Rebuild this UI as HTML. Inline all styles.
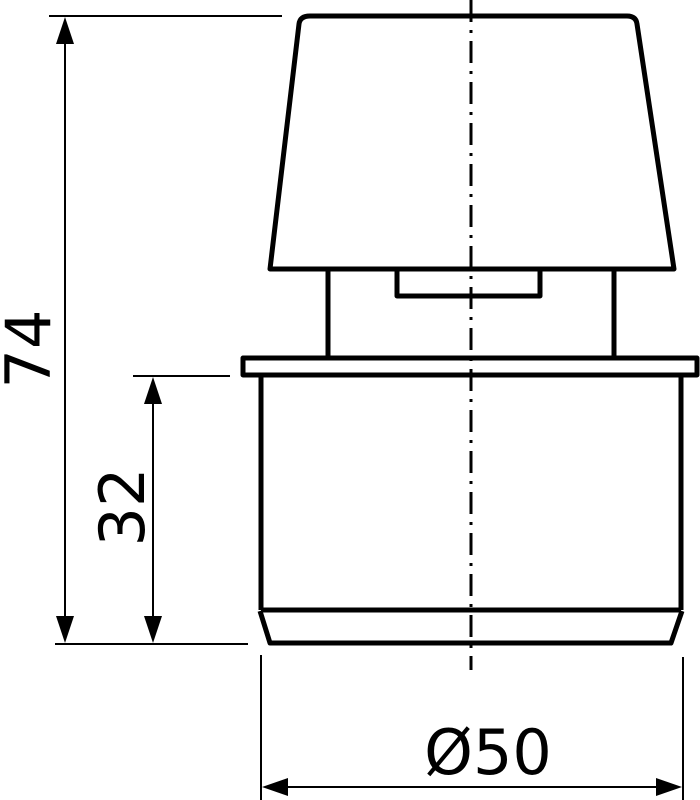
<!DOCTYPE html>
<html><head><meta charset="utf-8"><style>html,body{margin:0;padding:0;background:#fff}svg{display:block}</style></head>
<body>
<svg width="700" height="800" viewBox="0 0 700 800" xmlns="http://www.w3.org/2000/svg">
<g fill="none" stroke="#000" stroke-width="5" stroke-linejoin="round">
  <path d="M270,269 L299,24 Q300,16 310,16 L627,16 Q636,16 637,24 L674,269 Z"/>
  <path d="M397,271 L397,296 L540,296 L540,271"/>
  <line x1="328" y1="271" x2="328" y2="357"/>
  <line x1="614" y1="271" x2="614" y2="357"/>
  <rect x="243" y="358" width="454" height="17"/>
  <line x1="261" y1="376" x2="261" y2="610"/>
  <line x1="681" y1="376" x2="681" y2="610"/>
  <line x1="261" y1="610" x2="681" y2="610"/>
  <path d="M260,611 L270,643 L671,643 L682,611"/>
</g>
<line x1="471" y1="0" x2="471" y2="670" stroke="#000" stroke-width="3" stroke-dasharray="22,8,3,8"/>
<g stroke="#000" stroke-width="2">
  <line x1="49" y1="16" x2="282" y2="16"/>
  <line x1="55" y1="644" x2="248" y2="644"/>
  <line x1="65" y1="30" x2="65" y2="630"/>
  <line x1="133" y1="376" x2="230" y2="376"/>
  <line x1="153" y1="390" x2="153" y2="630"/>
  <line x1="261" y1="655" x2="261" y2="800"/>
  <line x1="683" y1="657" x2="683" y2="800"/>
  <line x1="275" y1="787" x2="669" y2="787"/>
</g>
<g fill="#000">
  <polygon points="65,17 56,44 74,44"/>
  <polygon points="65,643 56,616 74,616"/>
  <polygon points="153,377 144,404 162,404"/>
  <polygon points="153,643 144,616 162,616"/>
  <polygon points="262,787 288,778 288,796"/>
  <polygon points="682,787 656,778 656,796"/>
</g>
<g font-family="'DejaVu Sans','Liberation Sans',sans-serif" font-size="62" fill="#000">
  <text transform="translate(50,349) rotate(-90)" text-anchor="middle">74</text>
  <text transform="translate(144,507) rotate(-90)" text-anchor="middle">32</text>
  <text x="488" y="774" text-anchor="middle">Ø50</text>
</g>
</svg>
</body></html>
